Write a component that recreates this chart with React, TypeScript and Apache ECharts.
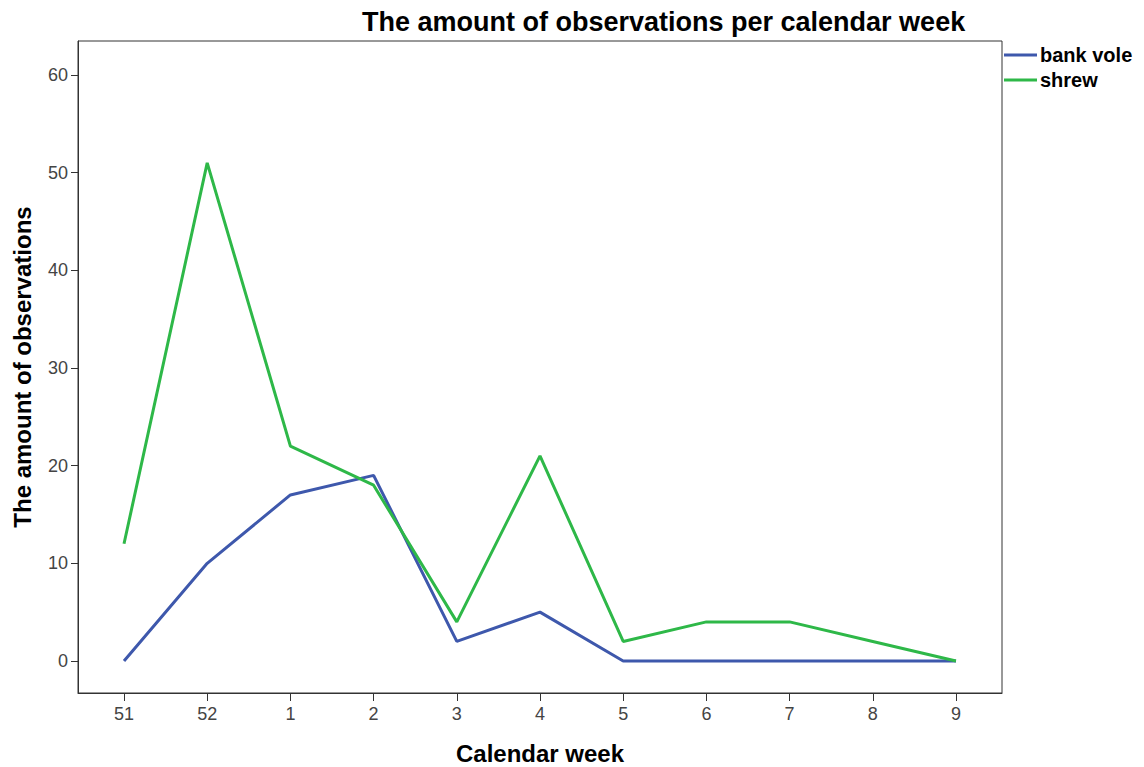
import React, { useEffect, useRef } from "react";
import * as echarts from "echarts";

const weeks = ["51", "52", "1", "2", "3", "4", "5", "6", "7", "8", "9"];
const bankVole = [0, 10, 17, 19, 2, 5, 0, 0, 0, 0, 0];
const shrew = [12, 51, 22, 18, 4, 21, 2, 4, 4, 2, 0];
const yTicks = [0, 10, 20, 30, 40, 50, 60];

export default function App() {
  const ref = useRef<HTMLDivElement>(null);
  useEffect(() => {
    const chart = echarts.init(ref.current!, null, { renderer: "svg" });
    const idx = weeks.map((_, i) => i);
    const font = "Liberation Sans, Arial, sans-serif";
    chart.setOption({
      animation: false,
      backgroundColor: "#fff",
      textStyle: { fontFamily: font },
      title: {
        text: "The amount of observations per calendar week",
        left: 357,
        top: 3,
        textStyle: { fontSize: 27, fontWeight: "bold", color: "#000", fontFamily: font },
      },
      legend: {
        orient: "vertical",
        left: 999,
        top: 40,
        itemGap: 5,
        itemWidth: 33,
        itemHeight: 3,
        icon: "rect",
        textStyle: { fontSize: 20, fontWeight: "bold", color: "#000", fontFamily: font, padding: [0, 0, 0, -2] },
        data: ["bank vole", "shrew"],
      },
      grid: {
        left: 78,
        top: 41,
        width: 924,
        height: 652,
        show: true,
        borderColor: "#333",
        borderWidth: 1,
        containLabel: false,
        outerBoundsMode: "none",
      },
      xAxis: {
        type: "value",
        min: -0.553,
        max: 10.553,
        name: "Calendar week",
        nameLocation: "middle",
        nameGap: 48,
        nameTextStyle: { fontSize: 24, fontWeight: "bold", color: "#000", fontFamily: font },
        axisLine: { show: true, onZero: false, lineStyle: { color: "#333", width: 1 } },
        axisTick: { show: true, length: 8, lineStyle: { color: "#333" }, customValues: idx },
        axisLabel: {
          customValues: idx,
          fontSize: 18,
          color: "#444",
          margin: 12,
          formatter: (v: number) => weeks[Math.round(v)] ?? "",
        },
        splitLine: { show: false },
      },
      yAxis: {
        type: "value",
        min: -3.28,
        max: 63.48,
        name: "The amount of observations",
        nameLocation: "middle",
        nameGap: 44,
        nameTextStyle: { fontSize: 24, fontWeight: "bold", color: "#000", fontFamily: font },
        axisLine: { show: true, onZero: false, lineStyle: { color: "#333", width: 1 } },
        axisTick: { show: true, length: 7, lineStyle: { color: "#333" }, customValues: yTicks },
        axisLabel: { customValues: yTicks, fontSize: 18, color: "#444", margin: 10 },
        splitLine: { show: false },
      },
      series: [
        {
          name: "bank vole",
          type: "line",
          data: bankVole.map((v, i) => [i, v]),
          showSymbol: false,
          symbol: "none",
          lineStyle: { color: "#3E58AC", width: 3 },
          itemStyle: { color: "#3E58AC" },
        },
        {
          name: "shrew",
          type: "line",
          data: shrew.map((v, i) => [i, v]),
          showSymbol: false,
          symbol: "none",
          lineStyle: { color: "#2EB848", width: 3 },
          itemStyle: { color: "#2EB848" },
        },
      ],
    });
    return () => chart.dispose();
  }, []);
  return (
    <div
      ref={ref}
      style={{ position: "absolute", left: 0, top: 0, width: 1144, height: 767 }}
    />
  );
}
